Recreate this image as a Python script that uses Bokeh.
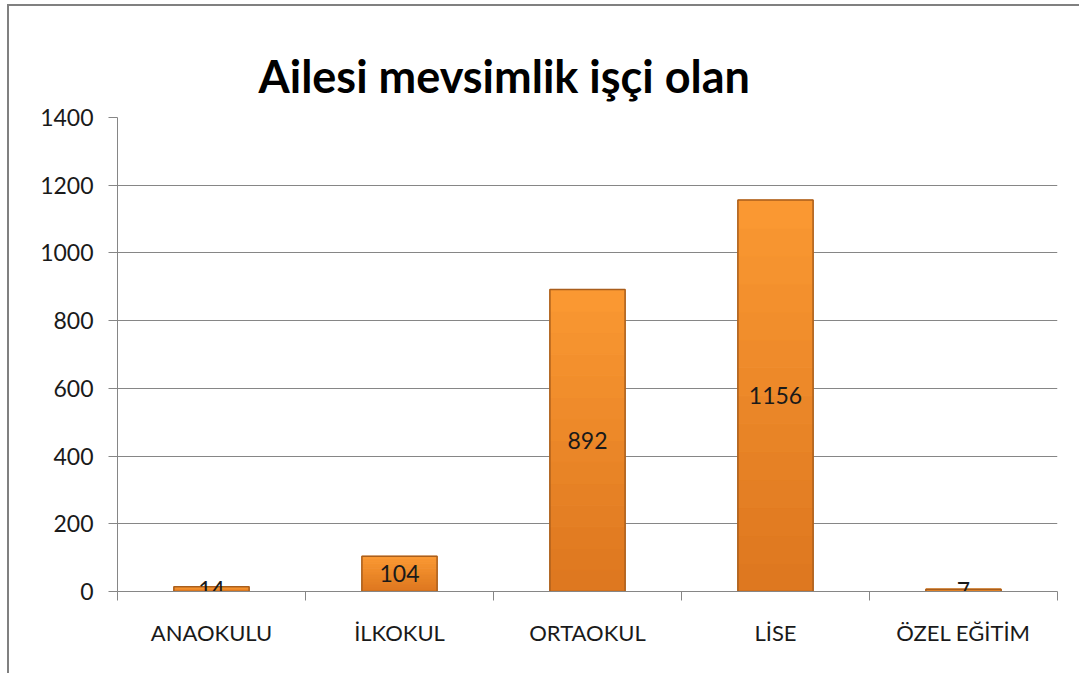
from bokeh.plotting import figure
from bokeh.models import FixedTicker, ColumnDataSource, Range1d
from bokeh.embed import file_html
from bokeh.resources import INLINE
from bokeh.core.properties import value

categories = ["ANAOKULU", "İLKOKUL", "ORTAOKUL", "LİSE", "ÖZEL EĞİTİM"]
counts = [14, 104, 892, 1156, 7]
y_ticks = [0, 200, 400, 600, 800, 1000, 1200, 1400]
title_text = "Ailesi mevsimlik işçi olan"

xs = [i + 0.5 for i in range(len(categories))]
src = ColumnDataSource(dict(
    x=xs,
    top=counts,
    mid=[c / 2 for c in counts],
    lbl=[str(c) for c in counts],
))

p = figure(width=1072, height=669, output_backend="svg", toolbar_location=None,
           x_range=Range1d(0, len(categories)), y_range=Range1d(0, 1400),
           min_border_left=108, min_border_right=24, min_border_top=111,
           min_border_bottom=84)
p.styles = {"border-top": "2px solid #808080", "border-left": "2px solid #808080",
            "margin-left": "7px", "margin-top": "4px"}
p.outline_line_color = None
p.background_fill_color = "white"
p.border_fill_color = "white"

p.title.text = title_text
p.title.text_font = "Lato"
p.title.text_font_size = "45px"
p.title.text_font_style = "bold"
p.title.text_color = "black"
p.title.align = "left"
p.title.offset = 141
p.title.standoff = 30

# vertical gradient approximation: stacked slices of each bar (derived from counts)
n_slices = 14
dark = (222, 120, 32)
light = (250, 152, 50)
for k in range(n_slices):
    f = k / (n_slices - 1)
    col = "#%02x%02x%02x" % tuple(int(d + (l - d) * f) for d, l in zip(dark, light))
    p.vbar(x=xs, bottom=[c * k / n_slices for c in counts],
           top=[c * (k + 1) / n_slices for c in counts], width=0.4,
           fill_color=col, line_color=col, line_width=1)
p.vbar(x="x", top="top", width=0.4, source=src, fill_color=None,
       line_color="#A95E1C", line_width=1.5)
p.text(x="x", y="mid", text="lbl", source=src, text_align="center",
       text_baseline="middle", text_font=value("Lato"), text_font_size="23px",
       text_color="#1a1a1a")

p.xaxis.ticker = FixedTicker(ticks=xs, minor_ticks=list(range(len(categories) + 1)))
p.xaxis.major_label_overrides = {x: c for x, c in zip(xs, categories)}
p.xaxis.major_tick_out = 0
p.xaxis.major_tick_in = 0
p.xaxis.minor_tick_out = 9
p.xaxis.minor_tick_in = 0
p.xaxis.minor_tick_line_color = "#868686"
p.xaxis.axis_line_color = "#868686"
p.xaxis.major_label_text_font = "Lato"
p.xaxis.major_label_text_font_size = "22px"
p.xaxis.major_label_text_color = "#1a1a1a"
p.xaxis.major_label_standoff = 18

p.yaxis.ticker = FixedTicker(ticks=y_ticks, minor_ticks=[])
p.yaxis.major_tick_out = 9
p.yaxis.major_tick_in = 0
p.yaxis.major_tick_line_color = "#868686"
p.yaxis.axis_line_color = "#868686"
p.yaxis.major_label_text_font = "Lato"
p.yaxis.major_label_text_font_size = "23px"
p.yaxis.major_label_text_color = "#1a1a1a"
p.yaxis.major_label_standoff = 15

p.xgrid.grid_line_color = None
p.ygrid.grid_line_color = "#868686"
p.ygrid.grid_line_width = 1

open("out.html", "w").write(file_html(p, INLINE))
